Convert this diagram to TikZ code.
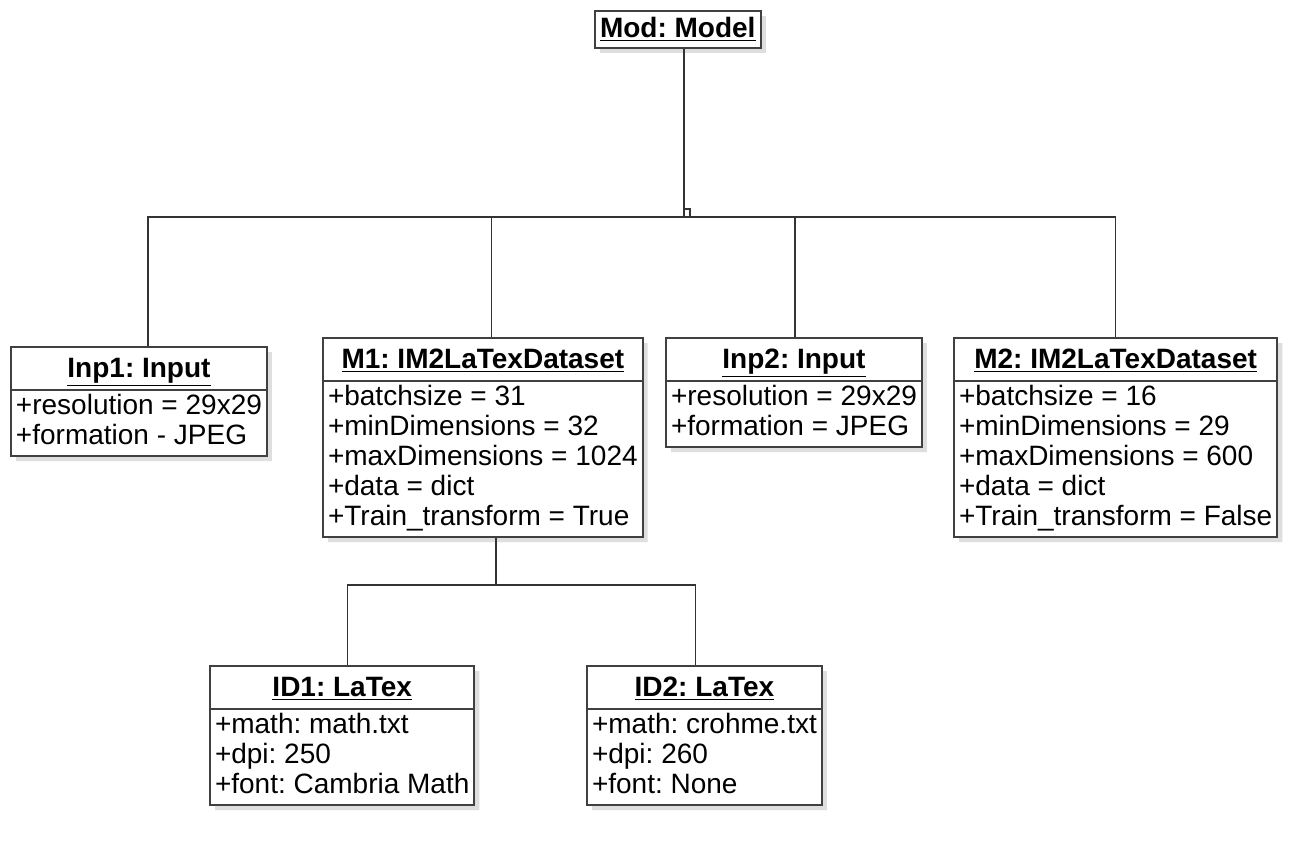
\documentclass[tikz,border=0pt]{standalone}
\usepackage{fontspec}
\setmainfont{Liberation Sans}
\frenchspacing
\usepackage{tikz}
\usetikzlibrary{positioning,shapes.multipart,shadows}

\newcommand{\objname}[1]{\rule[-5pt]{0pt}{18.5pt}\underline{\textbf{#1}}}

\begin{document}
\begin{tikzpicture}[x=0.5pt,y=-0.5pt,
            obj/.style={rectangle split,rectangle split parts=2,rectangle split draw splits,
              rectangle split part align={center,left},align=left,
              draw=black!75,line width=1pt,fill=white,inner xsep=2.5pt,inner ysep=1pt,
              font=\fontsize{14}{15}\selectfont,
              drop shadow={shadow xshift=2.5pt,shadow yshift=-2.5pt,fill=black!13,opacity=1}},
            topbox/.style={rectangle,draw=black!75,line width=1pt,fill=white,
              inner xsep=2.5pt,inner ysep=1pt,minimum height=18.5pt,
              font=\fontsize{14}{15}\selectfont,
              drop shadow={shadow xshift=2.5pt,shadow yshift=-2.5pt,fill=black!13,opacity=1}},
            link/.style={draw=black!80,line width=0.7pt}]
            \fill[white] (0,0) rectangle (1316,843);
            \useasboundingbox (0,0) rectangle (1316,843);
            % objects
            \node[topbox,anchor=north west] (mod) at (594,10) {\underline{\textbf{Mod: Model}}};
            \node[obj,anchor=north west] (inp1) at (10,346) {\objname{Inp1: Input}
              \nodepart{two}\strut+resolution = 29x29\\\strut+formation - JPEG};
            \node[obj,anchor=north west] (m1) at (322,337) {\objname{M1: IM2LaTexDataset}
              \nodepart{two}\strut+batchsize = 31\\\strut+minDimensions = 32\\\strut+maxDimensions = 1024\\
              \strut+data = dict\\\strut+Train\_transform = True};
            \node[obj,anchor=north west] (inp2) at (665,337) {\objname{Inp2: Input}
              \nodepart{two}\strut+resolution = 29x29\\\strut+formation = JPEG};
            \node[obj,anchor=north west] (m2) at (953,337) {\objname{M2: IM2LaTexDataset}
              \nodepart{two}\strut+batchsize = 16\\\strut+minDimensions = 29\\\strut+maxDimensions = 600\\
              \strut+data = dict\\\strut+Train\_transform = False};
            \node[obj,anchor=north west] (id1) at (209,665) {\objname{ID1: LaTex}
              \nodepart{two}\strut+math: math.txt\\\strut+dpi: 250\\\strut+font: Cambria Math};
            \node[obj,anchor=north west] (id2) at (586,665) {\objname{ID2: LaTex}
              \nodepart{two}\strut+math: crohme.txt\\\strut+dpi: 260\\\strut+font: None};
            % links
            \coordinate (hub) at (684,217);
            \coordinate (fork) at (496,585);
            \draw[link] (mod.south -| hub) -- (hub) -| ([xshift=4.5pt]inp1.north);
            \draw[link] (mod.south -| hub) -- (hub) -| ([xshift=4.25pt]m1.north);
            \draw[link] (mod.south -| hub) -- (hub) -| ([xshift=0.5pt]inp2.north);
            \draw[link] (mod.south -| hub) -- (hub) -| (m2.north);
            \draw[link] (hub) rectangle ++(6,-8);
            \draw[link] (m1.south -| fork) -- (fork) -| ([xshift=2.5pt]id1.north);
            \draw[link] (m1.south -| fork) -- (fork) -| ([xshift=-4.5pt]id2.north);
        \end{tikzpicture}
\end{document}
